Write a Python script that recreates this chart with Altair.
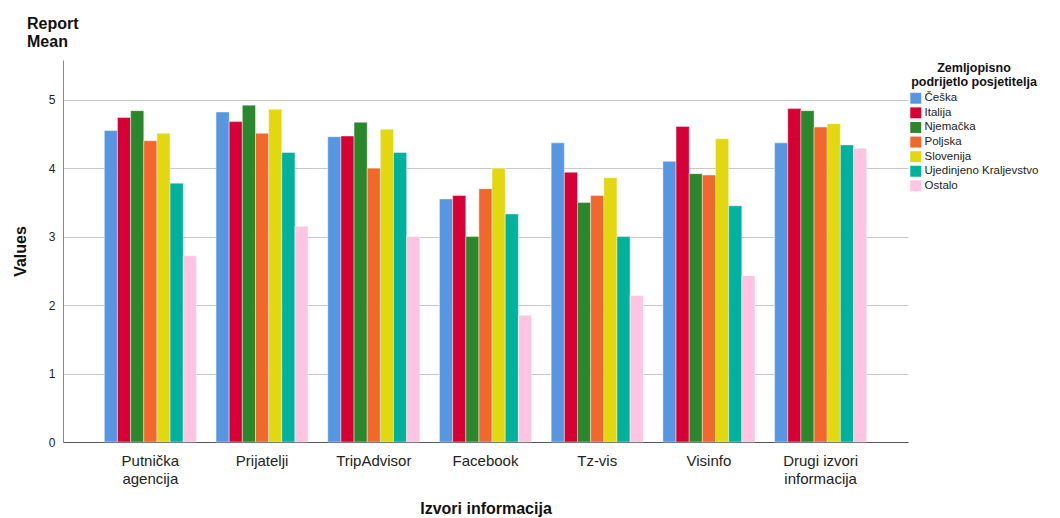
import altair as alt
import pandas as pd

categories = ["Putnička agencija", "Prijatelji", "TripAdvisor", "Facebook",
              "Tz-vis", "Visinfo", "Drugi izvori informacija"]
series = ["Češka", "Italija", "Njemačka", "Poljska", "Slovenija",
          "Ujedinjeno Kraljevstvo", "Ostalo"]
colors = ["#5797E2", "#D70035", "#2B872B", "#F2672B", "#E3D70F", "#00B19E", "#FFC4E1"]

ceska =    [4.55, 4.82, 4.46, 3.55, 4.37, 4.10, 4.37]
italija =  [4.74, 4.68, 4.47, 3.60, 3.94, 4.61, 4.87]
njemacka = [4.84, 4.92, 4.67, 3.00, 3.50, 3.92, 4.84]
poljska =  [4.40, 4.51, 4.00, 3.70, 3.60, 3.90, 4.60]
slovenija = [4.51, 4.86, 4.57, 4.00, 3.86, 4.43, 4.65]
uk =       [3.78, 4.23, 4.23, 3.33, 3.00, 3.45, 4.34]
ostalo =   [2.72, 3.15, 3.00, 1.85, 2.14, 2.43, 4.29]

values = [ceska, italija, njemacka, poljska, slovenija, uk, ostalo]
rows = []
for s, vals in zip(series, values):
    for c, v in zip(categories, vals):
        rows.append({"cat": c, "ser": s, "val": v})
df = pd.DataFrame(rows)

FONT = "Liberation Sans"

label_expr = ("datum.label == 'Putnička agencija' ? ['Putnička', 'agencija'] : "
              "datum.label == 'Drugi izvori informacija' ? ['Drugi izvori', 'informacija'] : datum.label")

chart = alt.Chart(df).mark_bar(stroke="white", strokeWidth=0.6, strokeOpacity=0.7).encode(
    x=alt.X("cat:N", sort=categories, title="Izvori informacija",
            scale=alt.Scale(paddingInner=0.176, paddingOuter=0.37),
            axis=alt.Axis(labelAngle=0, labelExpr=label_expr, labelFontSize=15,
                          labelColor="#222", labelFont=FONT, labelPadding=11,
                          labelLineHeight=18, ticks=False, domainColor="#555",
                          titleFontSize=16, titleFont=FONT, titleFontWeight="bold",
                          titleColor="#111", titlePadding=14)),
    xOffset=alt.XOffset("ser:N", sort=series, scale=alt.Scale(paddingInner=0.0)),
    y=alt.Y("val:Q", title="Values",
            scale=alt.Scale(domain=[0, 5.58], nice=False, zero=True),
            axis=alt.Axis(values=[0, 1, 2, 3, 4, 5], format="d", ticks=False,
                          labelFontSize=12, labelFont=FONT, labelColor="#222",
                          labelPadding=8, gridColor="#c8c8c8", gridWidth=1,
                          domainColor="#888", titleFontSize=16, titleFont=FONT,
                          titleFontWeight="bold", titleColor="#111", titlePadding=20)),
    color=alt.Color("ser:N", sort=series,
                    scale=alt.Scale(domain=series, range=colors),
                    legend=alt.Legend(title=["Zemljopisno", "podrijetlo posjetitelja"],
                                      orient="none", legendX=847, legendY=2,
                                      titleFontSize=12.5, titleFont=FONT,
                                      titleFontWeight="bold", titleColor="#111",
                                      titleAnchor="middle", titleAlign="center",
                                      titleLineHeight=14, titlePadding=4,
                                      labelFontSize=11.5, labelFont=FONT,
                                      labelColor="#222", symbolType="square",
                                      symbolSize=120, symbolStrokeWidth=0,
                                      rowPadding=1.6, labelOffset=3)),
).properties(
    width=845, height=382,
    autosize=alt.AutoSizeParams(type="none"),
    padding={"left": 55, "top": 52, "right": 144, "bottom": 76},
    title=alt.TitleParams(["Report", "Mean"], anchor="start", frame="group", dx=-36,
                          offset=10, fontSize=16, font=FONT, fontWeight="bold",
                          color="#111", lineHeight=18),
).configure_view(stroke=None)

chart.save("out.html", embed_options={"renderer": "svg", "actions": False})
